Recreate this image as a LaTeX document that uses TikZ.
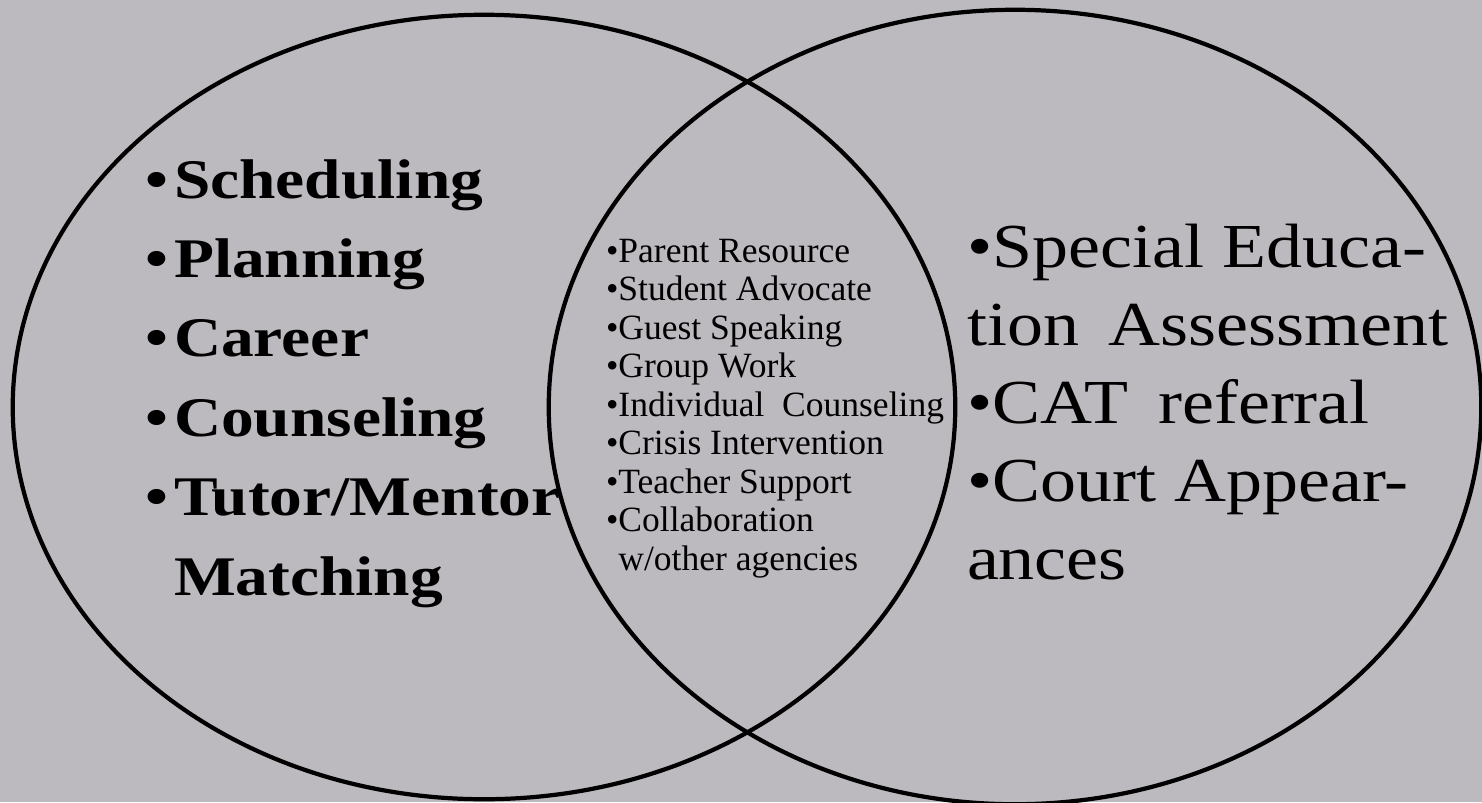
\documentclass[tikz,border=0pt]{standalone}
\usepackage{fontspec}
\setmainfont{Liberation Serif}
\usepackage{graphicx}
\usetikzlibrary{shapes.geometric}

\definecolor{fondogris}{RGB}{189,186,191}

% texto ensanchado como en el original
\newcommand{\ancho}[2][1.2]{\scalebox{#1}[1]{#2}}

\begin{document}
\begin{tikzpicture}[
		x=0.01cm, y=0.01cm,
		% Estilo de los conjuntos
		conjunto/.style={draw=black, line width=1.2pt, ellipse, inner sep=0pt},
		% Estilo de las listas
		lista/.style={anchor=base west, inner sep=0pt, outer sep=0pt, text=black}
		]
		
		\useasboundingbox (0,0) rectangle (1482,802);
		\fill[fondogris] (0,0) rectangle (1482,802);
		
		% --- CONJUNTOS ---
		\node[conjunto, minimum width=9.42cm, minimum height=7.84cm] (izquierdo) at (484,395) {};
		\node[conjunto, minimum width=9.32cm, minimum height=7.94cm] (derecho) at (1015,395) {};
		
		% --- LISTA IZQUIERDA ---
		\node[lista] (propias) at (145,604) {\ancho[1.17]{\fontsize{15.9}{22.6}\selectfont\bfseries
				\begin{tabular}[t]{@{}l@{}}
					\textbullet\hspace{1.5pt}Scheduling\\
					\textbullet\hspace{1.5pt}Planning\\
					\textbullet\hspace{1.5pt}Career\\
					\textbullet\hspace{1.5pt}Counseling\\
					\textbullet\hspace{1.5pt}Tutor/Mentor\\
					\phantom{\textbullet}\hspace{1.5pt}Matching
		\end{tabular}}};
		
		% --- LISTA COMUN ---
		\node[lista] (comunes) at (606,540) {\fontsize{10.1}{10.95}\selectfont
			\begin{tabular}[t]{@{}l@{}}
				\textbullet Parent Resource\\
				\textbullet Student Advocate\\
				\textbullet Guest Speaking\\
				\textbullet Group Work\\
				\textbullet Individual\ \ Counseling\\
				\textbullet Crisis Intervention\\
				\textbullet Teacher Support\\
				\textbullet Collaboration\\
				\phantom{\textbullet}w/other agencies
		\end{tabular}};
		
		% --- LISTA DERECHA ---
		\node[lista] (externas) at (967,535) {\ancho[1.15]{\fontsize{17.8}{22.2}\selectfont
				\begin{tabular}[t]{@{}l@{}}
					\textbullet Special Educa-\\
					tion\ \,Assessment\\
					\textbullet CAT\ \,referral\\
					\textbullet Court Appear-\\
					ances
		\end{tabular}}};
		
	\end{tikzpicture}
\end{document}
